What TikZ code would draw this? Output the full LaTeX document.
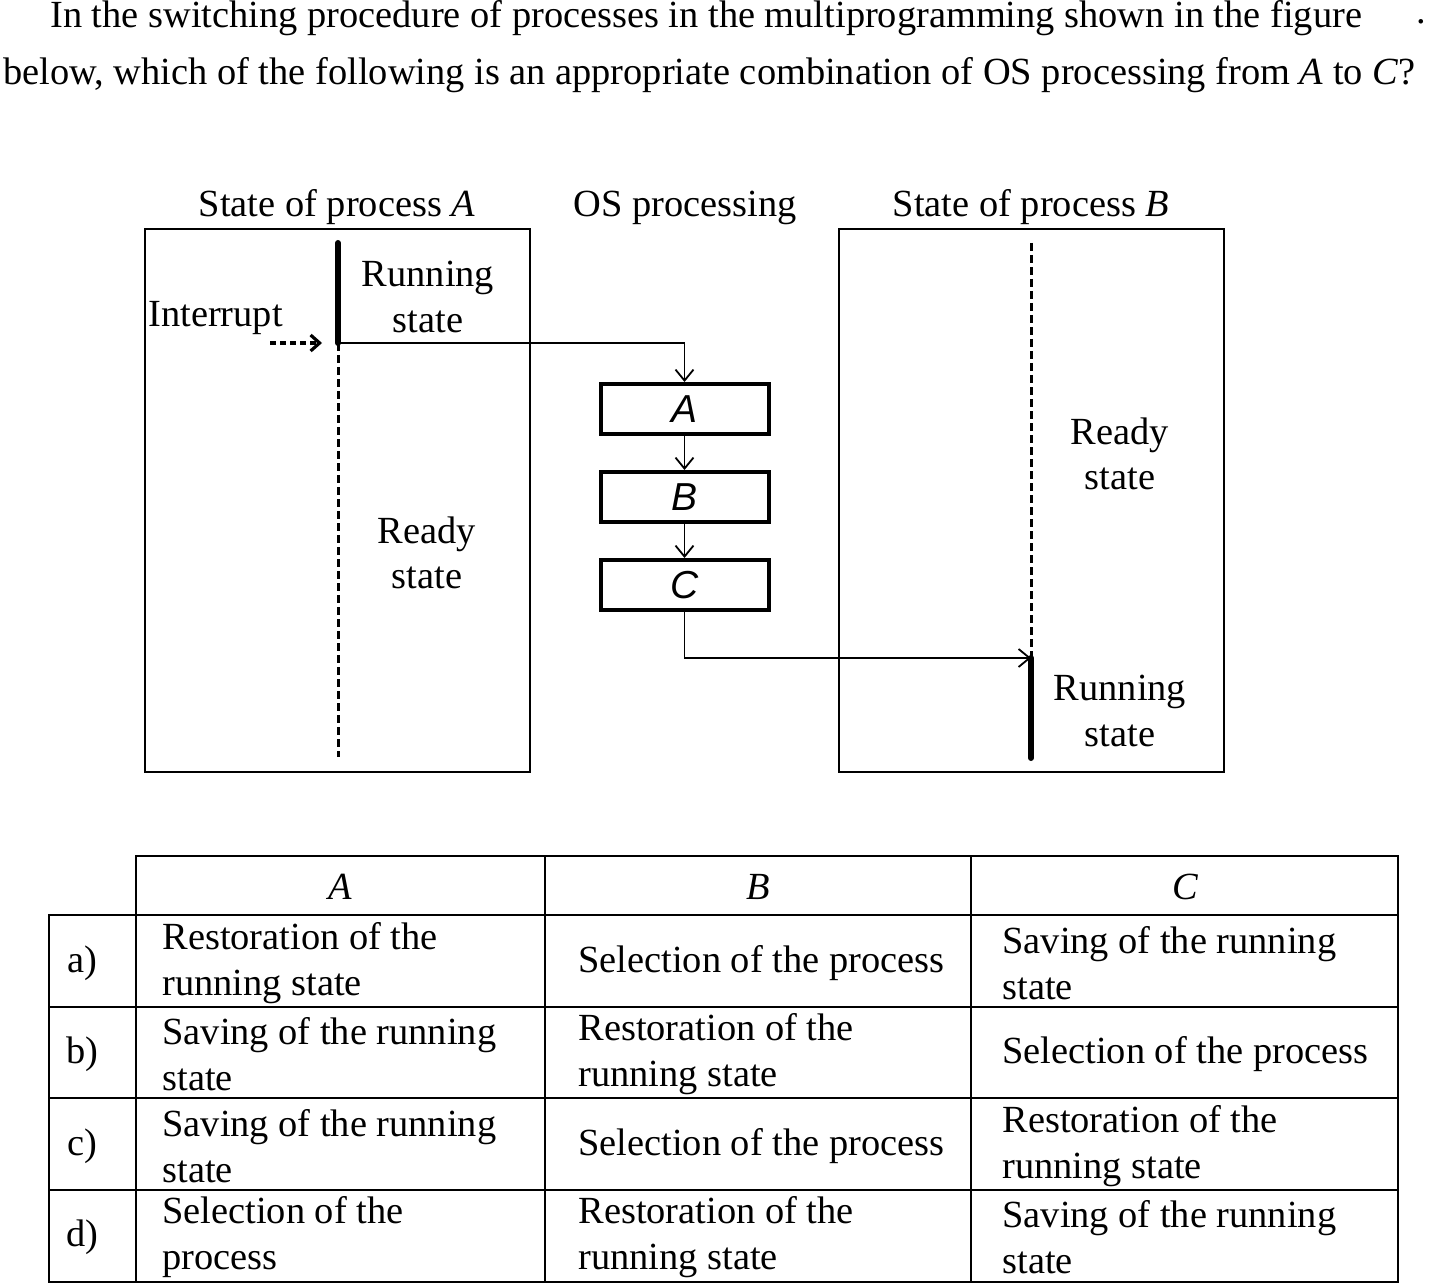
\documentclass[tikz,border=0pt]{standalone}
\usepackage{fontspec}
\setmainfont{Liberation Serif}
\newfontfamily\boxfont{Liberation Sans}
\usetikzlibrary{positioning,arrows.meta}
\newcommand{\txtsize}[0]{\fontsize{19.2}{22.8}\selectfont}
\newcommand{\proc}[1]{\textit{#1}}

\begin{document}
\begin{tikzpicture}[x=0.5pt,y=-0.5pt]
  \tikzset{every node/.style={font=\txtsize,inner sep=0pt},
    frame/.style={line width=1pt},
    runline/.style={line width=3pt,line cap=round},
    waitline/.style={line width=1.5pt,dash pattern=on 4pt off 2pt},
    flow/.style={line width=0.9pt,-{Straight Barb[length=5.5pt,width=9pt]}},
    osbox/.style={draw,line width=2pt,minimum width=84pt,minimum height=25pt,
      font=\boxfont\itshape\fontsize{19.5}{22}\selectfont},
    cell/.style={anchor=west,align=left},
    tabline/.style={line width=1.2pt}}
  \useasboundingbox (0,0) rectangle (1432,1284);
  % question
  \node[anchor=base west] (q1) at (50,28)
    {In the switching procedure of processes in the multiprogramming shown in the figure};
  \node[anchor=base west] (q2) at (3,85)
    {below, which of the following is an appropriate combination of OS processing from \proc{A} to \proc{C}?};
  \node[anchor=base east] (qdot) at (1426,24) {.};
  % headings
  \node[anchor=base] (headA) at (337,217) {State of process \proc{A}};
  \node[anchor=base] (headOS) at (685,217) {OS processing};
  \node[anchor=base] (headB) at (1031,217) {State of process \proc{B}};
  \draw[frame] (145,229) rectangle (530,772);
  \draw[frame] (839,229) rectangle (1224,772);
  % process A
  \coordinate (runA-top) at (338,243);
  \coordinate (runA-end) at (338,343);
  \coordinate (readyA-end) at (338,757);
  \draw[runline] (runA-top) -- (runA-end);
  \draw[waitline] (runA-end) -- (readyA-end);
  \node[align=center] (runA) at (428,297) {Running\\state};
  \node[align=center] (readyA) at (427,553) {Ready\\state};
  \node[anchor=west] (intr) at (148,318) {Interrupt};
  \coordinate (intr-from) at (270,343);
  \coordinate (intr-to) at (322,343);
  \draw[waitline,line width=1.6pt,dash pattern=on 3pt off 2pt,
    -{Straight Barb[length=4.5pt,width=8pt]}] (intr-from) -- (intr-to);
  % OS processing
  \node[osbox] (opA) at (684.5,409) {A};
  \node[osbox,below=17pt of opA] (opB) {B};
  \node[osbox,below=17pt of opB] (opC) {C};
  % process B
  \coordinate (readyB-top) at (1031,243);
  \coordinate (runB-top) at (1031,658);
  \coordinate (runB-end) at (1031,758);
  \draw[waitline] (readyB-top) -- (runB-top);
  \draw[runline] (runB-top) -- (runB-end);
  \node[align=center] (readyB) at (1120,454) {Ready\\state};
  \node[align=center] (runB) at (1120,711) {Running\\state};
  \draw[flow] (runA-end) -| (opA.north);
  \draw[flow] (opA) -- (opB);
  \draw[flow] (opB) -- (opC);
  \draw[flow] (opC.south) |- (runB-top);
  % answer table
  \draw[tabline] (136,856) rectangle (1398,1282);
  \draw[tabline] (49,915) rectangle (136,1282);
  \draw[tabline] (49,915) -- (1398,915);
  \draw[tabline] (49,1007) -- (1398,1007);
  \draw[tabline] (49,1098) -- (1398,1098);
  \draw[tabline] (49,1190) -- (1398,1190);
  \draw[tabline] (545,856) -- (545,1282);
  \draw[tabline] (971,856) -- (971,1282);
  \node (colA) at (340,887) {\proc{A}};
  \node (colB) at (758,887) {\proc{B}};
  \node (colC) at (1185,887) {\proc{C}};
  \node (rowa) at (82,963) {a)};
  \node (rowb) at (82,1054) {b)};
  \node (rowc) at (82,1146) {c)};
  \node (rowd) at (82,1237) {d)};
  \node[cell] (a-A) at (162,963) {Restoration of the\\running state};
  \node[cell] (a-B) at (578,963) {Selection of the process};
  \node[cell] (a-C) at (1002,963) {Saving of the running\\state};
  \node[cell] (b-A) at (162,1054) {Saving of the running\\state};
  \node[cell] (b-B) at (578,1054) {Restoration of the\\running state};
  \node[cell] (b-C) at (1002,1054) {Selection of the process};
  \node[cell] (c-A) at (162,1146) {Saving of the running\\state};
  \node[cell] (c-B) at (578,1146) {Selection of the process};
  \node[cell] (c-C) at (1002,1146) {Restoration of the\\running state};
  \node[cell] (d-A) at (162,1237) {Selection of the\\process};
  \node[cell] (d-B) at (578,1237) {Restoration of the\\running state};
  \node[cell] (d-C) at (1002,1237) {Saving of the running\\state};
\end{tikzpicture}
\end{document}
